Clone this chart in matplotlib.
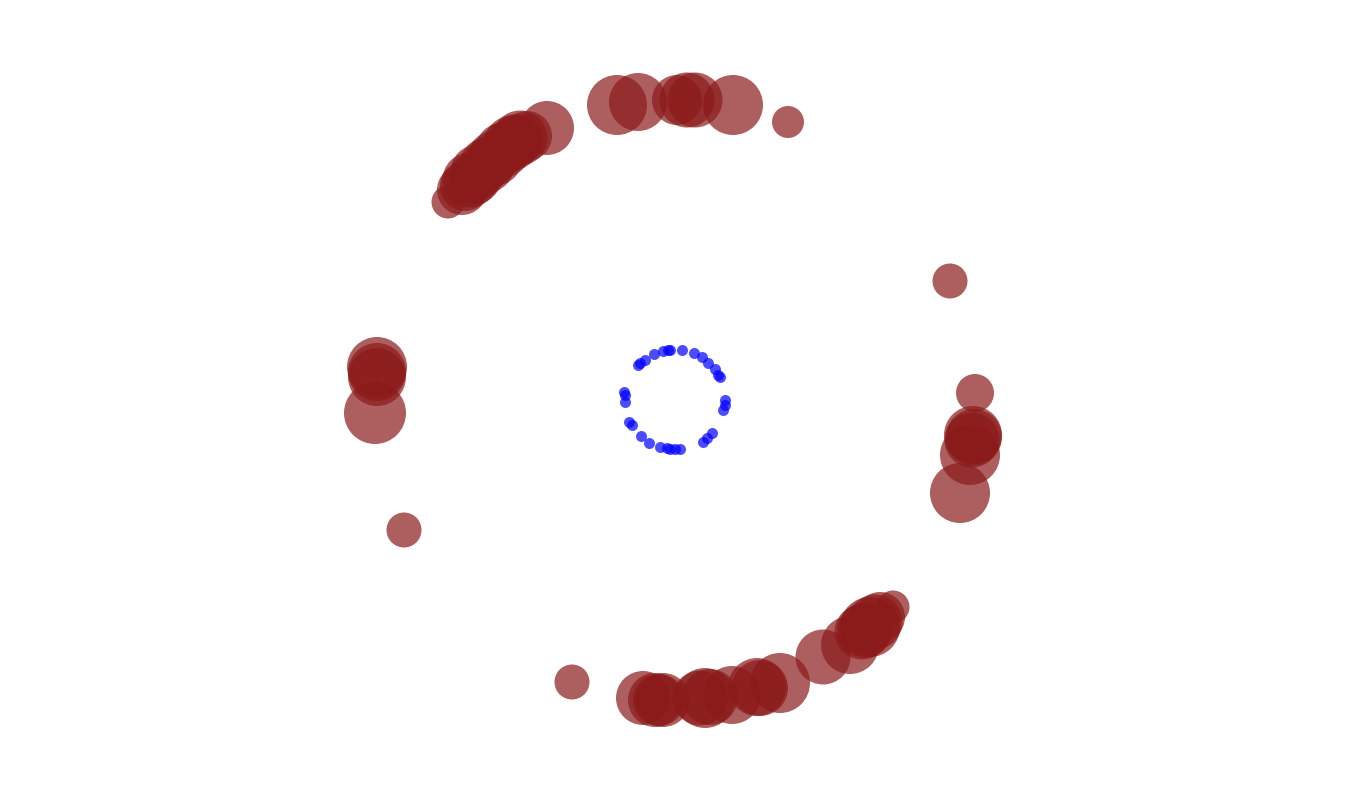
import numpy as np
import matplotlib.pyplot as plt


# outer ring (red bubbles): x, y, bubble magnitude
red_x = [-227, -213, -205, -197, -188, -180, -172, -163, -155, -148, -128,
         -200, -185, -168, -158, -210,
         -58, -37, 2, 12, 20, 58, 113,
         275, 300, 298, 297, 295, 285, 299,
         218, 205, 195, 187, 175, 148, 105, 82, 57, 30, 25, -12, -20, -32, -103,
         35, 85, 190, 200, -16,
         -271, -300, -298, -298, -298]
red_y = [198, 210, 220, 228, 235, 242, 250, 257, 262, 264, 272,
         222, 238, 253, 260, 214,
         295, 298, 300, 300, 300, 295, 278,
         119, 7, -35, -40, -55, -93, -37,
         -207, -217, -227, -232, -245, -257, -283, -287, -295, -298, -298, -300, -300, -298, -282,
         -297, -288, -230, -222, -300,
         -130, -13, 23, 33, 28]
red_mag = [33, 50, 55, 55, 55, 55, 55, 55, 55, 50, 54,
           52, 52, 52, 52, 50,
           60, 58, 50, 55, 55, 60, 32,
           35, 38, 58, 55, 60, 60, 56,
           33, 50, 60, 55, 58, 55, 60, 58, 58, 60, 55, 54, 54, 54, 35,
           56, 56, 55, 55, 52,
           35, 62, 58, 60, 58]

# inner ring (blue dots)
blue_x = [-37, -35, -30, -21, -12, -7, -5, 7, 19, 27, 33, 40, 43, 45,
          50, 50, 48, 37, 32, 28, 5, 0, -5, -8, -15, -26, -34, -43, -46,
          -50, -50, -51]
blue_y = [35, 37, 40, 46, 49, 50, 50, 50, 47, 43, 37, 31, 25, 23,
          0, -5, -10, -33, -38, -42, -49, -49, -49, -48, -47, -43, -36, -25, -22,
          -2, 5, 8]

fig = plt.figure(figsize=(13.5, 8), dpi=100)
ax = fig.add_axes([0, 0, 1, 1])

# magnitude -> marker area (diameter in px at 100 dpi)
sizes = (np.array(red_mag) * 0.72) ** 2
ax.scatter(red_x, red_y, s=sizes, color='#8B1A1A', alpha=0.7, linewidths=0)
ax.scatter(blue_x, blue_y, s=(11 * 0.72) ** 2, color='blue', alpha=0.7, linewidths=0)

ax.set_xlim(-675, 675)
ax.set_ylim(-400, 400)
ax.axis('off')

plt.savefig("out.png", dpi=100)
